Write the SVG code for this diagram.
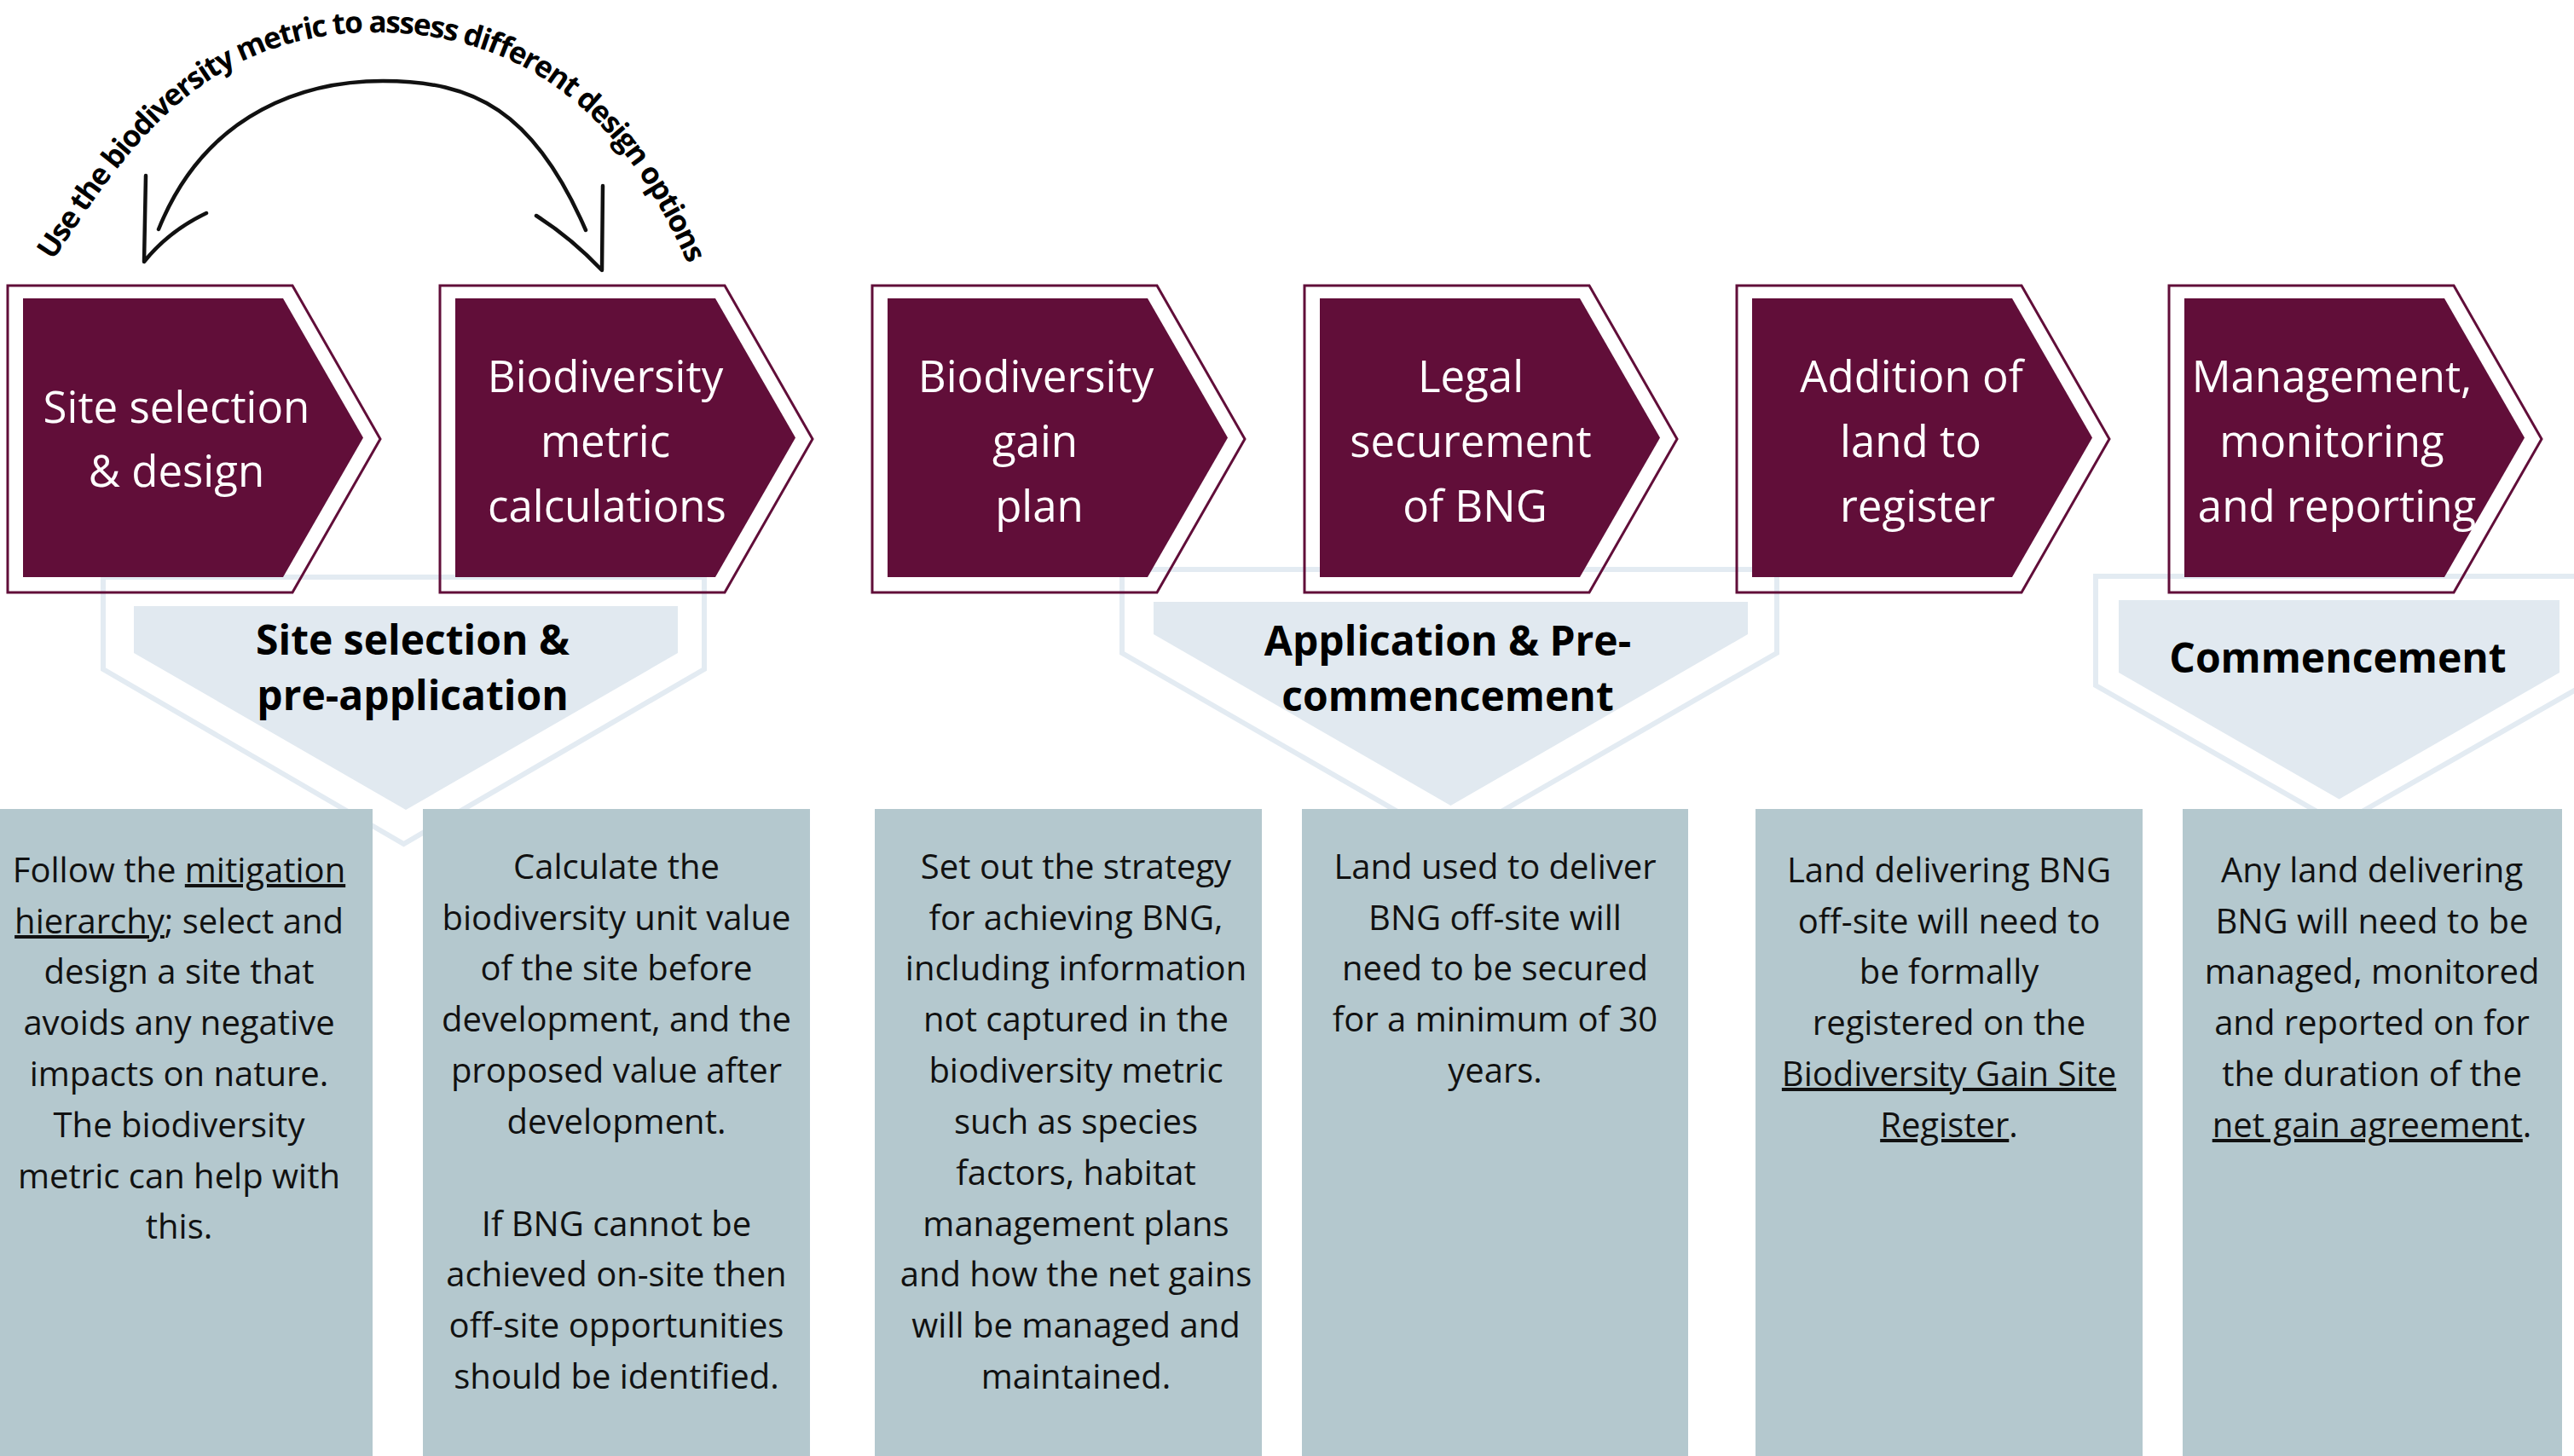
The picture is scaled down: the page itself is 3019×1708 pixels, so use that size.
<svg xmlns="http://www.w3.org/2000/svg" width="3019" height="1708" viewBox="0 0 3019 1708">
<defs>
<style>
.bg{fill:#ffffff}
.chev-out{fill:none;stroke:#610E39;stroke-width:3}
.chev-in{fill:#610E39}
.chev-t{font-family:"Open Sans","Liberation Sans",sans-serif;font-size:51px;fill:#ffffff;text-anchor:middle}
.ban-out{fill:none;stroke:#E3EBF2;stroke-width:6}
.ban-in{fill:#E1E9F0}
.ban-t{font-family:"Open Sans","Liberation Sans",sans-serif;font-weight:700;font-size:48px;fill:#000000;text-anchor:middle}
.box{fill:#B4C8CE}
.box-t{font-family:"Open Sans","Liberation Sans",sans-serif;font-size:40px;fill:#111111;text-anchor:middle}
.u{text-decoration:underline}
.conn{fill:none;stroke:#111111;stroke-width:4.5;stroke-linecap:round;stroke-linejoin:round}
.arc-t{font-family:"Open Sans","Liberation Sans",sans-serif;font-weight:700;font-size:35px;fill:#000000}
</style>
<path id="arcTextPath" d="M62,306 C137.6,194 228,38 440,38 C652,38 751,183 805,306 L816,332"/>
</defs>
<rect class="bg" x="0" y="0" width="3019" height="1708"/>

<!-- phase banners -->
<g id="phase-site-selection">
<path class="ban-out" d="M121,677 H826 V785 L473.5,990 L121,785 Z"/>
<path class="ban-in" d="M157,711 H795 V766 L476,950 L157,766 Z"/>
<text class="ban-t" x="484" y="768">Site selection &amp;</text>
<text class="ban-t" x="484" y="833">pre-application</text>
</g>
<g id="phase-application">
<path class="ban-out" d="M1316,668 H2084 V766 L1700,987 L1316,766 Z"/>
<path class="ban-in" d="M1353,706 H2050 V744 L1701.5,945 L1353,744 Z"/>
<text class="ban-t" x="1698" y="769">Application &amp; Pre-</text>
<text class="ban-t" x="1698" y="833.5">commencement</text>
</g>
<g id="phase-commencement">
<path class="ban-out" d="M2458,676 H3030 V804 L2744,967 L2458,804 Z"/>
<path class="ban-in" d="M2485,704 H3002 V789 L2743.5,937.5 L2485,789 Z"/>
<text class="ban-t" x="2742" y="789">Commencement</text>
</g>

<!-- step chevrons -->
<g id="step-site-selection">
<path class="chev-out" d="M9,335 H343 L446,515 L343,695 H9 Z"/>
<path class="chev-in" d="M27,350 H332 L426,513.5 L332,677 H27 Z"/>
<text class="chev-t" x="207" y="495.5">Site selection</text>
<text class="chev-t" x="207" y="571">&amp; design</text>
</g>
<g id="step-metric">
<path class="chev-out" d="M516,335 H850 L953,515 L850,695 H516 Z"/>
<path class="chev-in" d="M534,350 H839 L933,513.5 L839,677 H534 Z"/>
<text class="chev-t" x="710" y="460">Biodiversity</text>
<text class="chev-t" x="710" y="536">metric</text>
<text class="chev-t" x="712" y="612">calculations</text>
</g>
<g id="step-gain-plan">
<path class="chev-out" d="M1023,335 H1357 L1460,515 L1357,695 H1023 Z"/>
<path class="chev-in" d="M1041,350 H1346 L1440,513.5 L1346,677 H1041 Z"/>
<text class="chev-t" x="1215" y="460">Biodiversity</text>
<text class="chev-t" x="1214" y="536">gain</text>
<text class="chev-t" x="1219" y="612">plan</text>
</g>
<g id="step-legal">
<path class="chev-out" d="M1530,335 H1864 L1967,515 L1864,695 H1530 Z"/>
<path class="chev-in" d="M1548,350 H1853 L1947,513.5 L1853,677 H1548 Z"/>
<text class="chev-t" x="1725" y="460">Legal</text>
<text class="chev-t" x="1725" y="536">securement</text>
<text class="chev-t" x="1730" y="612">of BNG</text>
</g>
<g id="step-register">
<path class="chev-out" d="M2037,335 H2371 L2474,515 L2371,695 H2037 Z"/>
<path class="chev-in" d="M2055,350 H2360 L2454,513.5 L2360,677 H2055 Z"/>
<text class="chev-t" x="2242" y="460">Addition of</text>
<text class="chev-t" x="2241" y="536">land to</text>
<text class="chev-t" x="2249" y="612">register</text>
</g>
<g id="step-management">
<path class="chev-out" d="M2544,335 H2878 L2981,515 L2878,695 H2544 Z"/>
<path class="chev-in" d="M2562,350 H2867 L2961,513.5 L2867,677 H2562 Z"/>
<text class="chev-t" x="2735" y="460">Management,</text>
<text class="chev-t" x="2735" y="536">monitoring</text>
<text class="chev-t" x="2741" y="612">and reporting</text>
</g>

<!-- description boxes -->
<g id="desc-site-selection">
<rect class="box" x="-20" y="949" width="457" height="770"/>
<text class="box-t" x="210" y="1035"><tspan>Follow the </tspan><tspan class="u">mitigation</tspan></text>
<text class="box-t" x="210" y="1095"><tspan class="u">hierarchy</tspan><tspan>; select and</tspan></text>
<text class="box-t" x="210" y="1154">design a site that</text>
<text class="box-t" x="210" y="1214">avoids any negative</text>
<text class="box-t" x="210" y="1274">impacts on nature.</text>
<text class="box-t" x="210" y="1334">The biodiversity</text>
<text class="box-t" x="210" y="1394">metric can help with</text>
<text class="box-t" x="210" y="1453">this.</text>
</g>
<g id="desc-metric">
<rect class="box" x="496" y="949" width="454" height="770"/>
<text class="box-t" x="723" y="1031">Calculate the</text>
<text class="box-t" x="723" y="1091">biodiversity unit value</text>
<text class="box-t" x="723" y="1150">of the site before</text>
<text class="box-t" x="723" y="1210">development, and the</text>
<text class="box-t" x="723" y="1270">proposed value after</text>
<text class="box-t" x="723" y="1330">development.</text>
<text class="box-t" x="723" y="1450">If BNG cannot be</text>
<text class="box-t" x="723" y="1509">achieved on-site then</text>
<text class="box-t" x="723" y="1569">off-site opportunities</text>
<text class="box-t" x="723" y="1629">should be identified.</text>
</g>
<g id="desc-gain-plan">
<rect class="box" x="1026" y="949" width="454" height="770"/>
<text class="box-t" x="1262" y="1031">Set out the strategy</text>
<text class="box-t" x="1262" y="1091">for achieving BNG,</text>
<text class="box-t" x="1262" y="1150">including information</text>
<text class="box-t" x="1262" y="1210">not captured in the</text>
<text class="box-t" x="1262" y="1270">biodiversity metric</text>
<text class="box-t" x="1262" y="1330">such as species</text>
<text class="box-t" x="1262" y="1390">factors, habitat</text>
<text class="box-t" x="1262" y="1450">management plans</text>
<text class="box-t" x="1262" y="1509">and how the net gains</text>
<text class="box-t" x="1262" y="1569">will be managed and</text>
<text class="box-t" x="1262" y="1629">maintained.</text>
</g>
<g id="desc-legal">
<rect class="box" x="1527" y="949" width="453" height="770"/>
<text class="box-t" x="1753.5" y="1031">Land used to deliver</text>
<text class="box-t" x="1753.5" y="1091">BNG off-site will</text>
<text class="box-t" x="1753.5" y="1150">need to be secured</text>
<text class="box-t" x="1753.5" y="1210">for a minimum of 30</text>
<text class="box-t" x="1753.5" y="1270">years.</text>
</g>
<g id="desc-register">
<rect class="box" x="2059" y="949" width="454" height="770"/>
<text class="box-t" x="2286" y="1035">Land delivering BNG</text>
<text class="box-t" x="2286" y="1095">off-site will need to</text>
<text class="box-t" x="2286" y="1154">be formally</text>
<text class="box-t" x="2286" y="1214">registered on the</text>
<text class="box-t" x="2286" y="1274"><tspan class="u">Biodiversity Gain Site</tspan></text>
<text class="box-t" x="2286" y="1334"><tspan class="u">Register</tspan><tspan>.</tspan></text>
</g>
<g id="desc-management">
<rect class="box" x="2560" y="949" width="445" height="770"/>
<text class="box-t" x="2782" y="1035">Any land delivering</text>
<text class="box-t" x="2782" y="1095">BNG will need to be</text>
<text class="box-t" x="2782" y="1154">managed, monitored</text>
<text class="box-t" x="2782" y="1214">and reported on for</text>
<text class="box-t" x="2782" y="1274">the duration of the</text>
<text class="box-t" x="2782" y="1334"><tspan class="u">net gain agreement</tspan><tspan>.</tspan></text>
</g>

<!-- connectors: iteration loop between first two steps -->
<g id="connectors">
<path class="conn" d="M186,269 C243,127 364,95 449,95 C555,95 626,129 687,270"/>
<path class="conn" d="M171,206 L169,307 Q198,271 242,250"/>
<path class="conn" d="M707,218 L706,317 Q670,279 629,253"/>
<text class="arc-t"><textPath href="#arcTextPath" textLength="975" lengthAdjust="spacing">Use the biodiversity metric to assess different design options</textPath></text>
</g>
</svg>
